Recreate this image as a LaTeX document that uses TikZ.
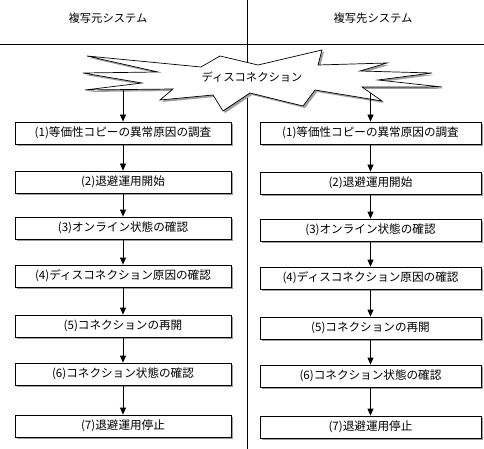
\documentclass[tikz,border=0pt]{standalone}
\usepackage{fontspec}
\newfontfamily\jpfont{Noto Sans CJK JP}
\usetikzlibrary{arrows.meta,shadows}

\tikzset{
  grayshadow/.style={drop shadow={shadow xshift=2pt,shadow yshift=-2pt,fill=gray!75,opacity=1}},
  stepbox/.style={draw,fill=white,line width=0.8pt,minimum height=22pt,inner sep=0pt,
    font=\jpfont\fontsize{11.6}{13}\selectfont,grayshadow},
  leftbox/.style={stepbox,minimum width=216pt},
  rightbox/.style={stepbox,minimum width=221pt},
  label/.style={font=\jpfont\fontsize{11.3}{13}\selectfont},
  flow/.style={-{Triangle[width=6pt,length=7pt]},line width=0.8pt}
}

\begin{document}
\begin{tikzpicture}[x=1pt,y=-1pt]
\useasboundingbox (0,0) rectangle (484,449);

% frame lines
\draw[line width=0.8pt] (247,0) -- (247,449);
\draw[line width=0.8pt] (0,44) -- (484,44);

\node[label] at (108,18) (srcsys) {複写元システム};
\node[label] at (373,18) (dstsys) {複写先システム};

% disconnection burst
\draw[fill=white,line width=0.7pt,grayshadow]
  (87,56) -- (201,67) -- (220,56) -- (258,65) -- (322,50) -- (318,65)
  -- (387,63) -- (360,71) -- (432,73) -- (378,80) -- (442,87) -- (362,87)
  -- (382,101) -- (315,90) -- (303,106) -- (250,93) -- (223,111) -- (213,95)
  -- (160,100) -- (173,89) -- (85,90) -- (142,83) -- (83,73) -- (158,72) -- cycle;
\node[label] at (252,77) (burst) {ディスコネクション};
\coordinate (srcstart) at (123,90);
\coordinate (dststart) at (370.5,93);

% source side
\node[leftbox] at (123,133) (L1) {(1)等価性コピーの異常原因の調査};
\node[leftbox] at (123,182) (L2) {(2)退避運用開始};
\node[leftbox] at (123,228) (L3) {(3)オンライン状態の確認};
\node[leftbox] at (123,276) (L4) {(4)ディスコネクション原因の確認};
\node[leftbox] at (123,326) (L5) {(5)コネクションの再開};
\node[leftbox] at (123,374) (L6) {(6)コネクション状態の確認};
\node[leftbox] at (123,426) (L7) {(7)退避運用停止};

% target side
\node[rightbox] at (370.5,133) (R1) {(1)等価性コピーの異常原因の調査};
\node[rightbox] at (370.5,183) (R2) {(2)退避運用開始};
\node[rightbox] at (370.5,230) (R3) {(3)オンライン状態の確認};
\node[rightbox] at (370.5,278) (R4) {(4)ディスコネクション原因の確認};
\node[rightbox] at (370.5,328) (R5) {(5)コネクションの再開};
\node[rightbox] at (370.5,376) (R6) {(6)コネクション状態の確認};
\node[rightbox] at (370.5,427) (R7) {(7)退避運用停止};

\draw[flow] (srcstart) -- (L1);
\draw[flow] (L1) -- (L2);
\draw[flow] (L2) -- (L3);
\draw[flow] (L3) -- (L4);
\draw[flow] (L4) -- (L5);
\draw[flow] (L5) -- (L6);
\draw[flow] (L6) -- (L7);

\draw[flow] (dststart) -- (R1);
\draw[flow] (R1) -- (R2);
\draw[flow] (R2) -- (R3);
\draw[flow] (R3) -- (R4);
\draw[flow] (R4) -- (R5);
\draw[flow] (R5) -- (R6);
\draw[flow] (R6) -- (R7);
\end{tikzpicture}
\end{document}
